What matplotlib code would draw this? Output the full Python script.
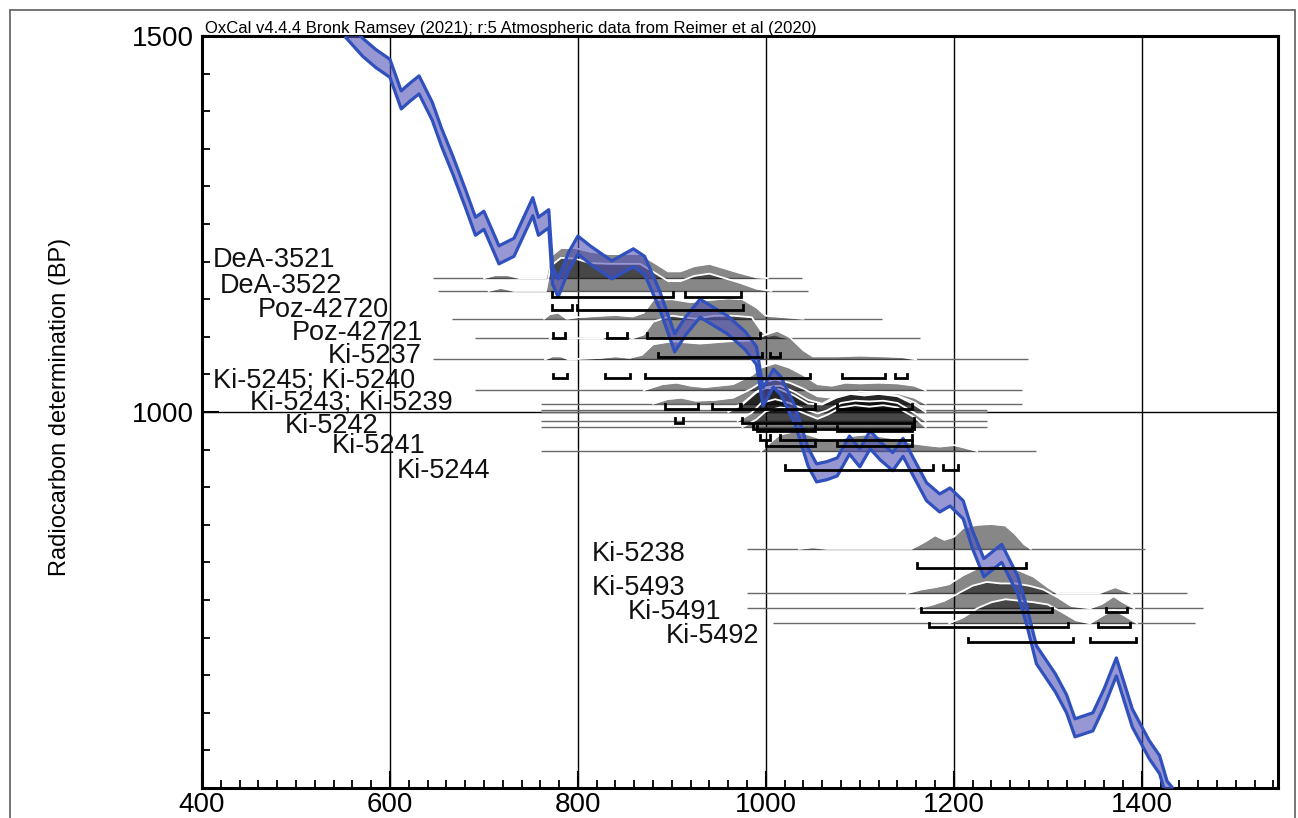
import numpy as np
import matplotlib.pyplot as plt
from matplotlib.patches import Rectangle

plt.rcParams['font.family'] = ['Liberation Sans', 'DejaVu Sans']

# Calibration curve (IntCal20): cal AD vs radiocarbon BP
curve_ad = [553, 571, 585, 600, 612, 621, 631, 645, 655, 667, 680, 691, 700, 716, 732, 752, 758,
            769, 773, 779, 790, 800, 813, 836, 859, 871, 887, 903, 915, 930, 959, 978, 990, 997,
            1008, 1016, 1031, 1045, 1054, 1065, 1076, 1089, 1100, 1111, 1122, 1135, 1146, 1156,
            1171, 1185, 1196, 1210, 1220, 1232, 1251, 1268, 1278, 1288, 1308, 1320, 1329, 1348,
            1360, 1373, 1390, 1408, 1419, 1427, 1435]
curve_bp = [1510, 1485, 1470, 1457, 1415, 1425, 1435, 1400, 1365, 1328, 1285, 1247, 1255, 1209,
            1219, 1273, 1247, 1257, 1182, 1165, 1200, 1222, 1209, 1189, 1205, 1195, 1149, 1092,
            1115, 1138, 1116, 1095, 1075, 1020, 1045, 1035, 996, 940, 919, 922, 927, 956, 939,
            963, 948, 934, 953, 929, 894, 879, 887, 870, 830, 793, 812, 770, 727, 677, 640, 612,
            580, 588, 620, 661, 593, 551, 531, 497, 485]
curve_err = 12

# dates: measured BP, extent of the thin line, calibrated distribution, 95.4% ranges
date_names = ['DeA-3521', 'DeA-3522', 'Poz-42720', 'Poz-42721', 'Ki-5237', 'Ki-5245',
              'Ki-5240', 'Ki-5243', 'Ki-5239', 'Ki-5242', 'Ki-5241', 'Ki-5244',
              'Ki-5238', 'Ki-5493', 'Ki-5491', 'Ki-5492']
date_bp = [1178, 1161, 1124, 1098, 1070, 1029, 1011, 1003, 1000, 988, 980, 948,
           818, 759, 739, 719]
line_start = [646, 651, 666, 690, 646, 690, 761, 761, 761, 761, 761, 761,
              980, 980, 980, 1008]
line_end = [1039, 1045, 1124, 1164, 1279, 1273, 1273, 1235, 1235, 1235, 1235, 1288,
            1403, 1448, 1465, 1457]

dist_x = [
    [700, 712, 725, 738, 766, 771, 782, 797, 813, 834, 866, 882, 896, 909, 924, 940, 956, 972, 990, 1002],
    [705, 718, 732, 766, 771, 782, 797, 813, 834, 866, 882, 896, 909, 924, 940, 956, 972, 990, 1006],
    [764, 770, 779, 788, 800, 825, 840, 858, 870, 880, 900, 920, 940, 960, 975, 990, 1000, 1020, 1040],
    [770, 776, 782, 826, 832, 850, 858, 870, 880, 900, 925, 945, 965, 985, 995, 1002, 1010, 1016, 1025],
    [765, 773, 782, 790, 825, 840, 855, 868, 880, 900, 930, 960, 985, 1000, 1012, 1025, 1040, 1050,
     1075, 1100, 1125, 1145, 1160],
    [870, 890, 905, 920, 935, 950, 965, 985, 995, 1010, 1025, 1040, 1055, 1070, 1085, 1100, 1120,
     1140, 1158, 1170],
    [880, 895, 910, 925, 945, 965, 985, 995, 1010, 1025, 1040, 1055, 1070, 1085, 1100, 1120, 1140,
     1158, 1170],
    [960, 975, 990, 1000, 1015, 1030, 1045, 1060, 1075, 1090, 1105, 1120, 1140, 1158, 1170],
    [960, 975, 990, 1000, 1015, 1030, 1045, 1060, 1075, 1090, 1105, 1120, 1140, 1158, 1170],
    [970, 985, 995, 1010, 1025, 1040, 1055, 1065, 1080, 1095, 1110, 1125, 1140, 1158, 1170],
    [975, 990, 1000, 1015, 1030, 1045, 1055, 1065, 1080, 1095, 1110, 1125, 1140, 1158, 1170],
    [995, 1005, 1015, 1030, 1045, 1060, 1075, 1090, 1105, 1120, 1140, 1158, 1170, 1185, 1200, 1210, 1225],
    [1035, 1050, 1065, 1155, 1170, 1180, 1190, 1200, 1210, 1225, 1240, 1255, 1265, 1275, 1282],
    [1150, 1165, 1180, 1195, 1210, 1225, 1240, 1255, 1270, 1285, 1300, 1310, 1355, 1365, 1372, 1380, 1390],
    [1160, 1175, 1190, 1205, 1220, 1235, 1250, 1265, 1280, 1295, 1310, 1325, 1345, 1358, 1370, 1380, 1392],
    [1195, 1210, 1225, 1240, 1255, 1270, 1285, 1300, 1315, 1330, 1345, 1358, 1370, 1382, 1395],
]
dist_h = [
    [0, 4, 4, 0, 0, 29, 40, 40, 35, 32, 32, 20, 9, 9, 16, 19, 13, 7, 1, 0],
    [0, 4, 0, 0, 33, 44, 43, 37, 36, 36, 24, 13, 13, 20, 23, 17, 11, 3, 0],
    [0, 6, 8, 0, 2, 4, 5, 3, 8, 25, 26, 22, 25, 27, 26, 15, 4, 2, 0],
    [0, 3, 0, 0, 3, 3, 0, 5, 22, 30, 26, 30, 30, 28, 10, 3, 5, 2, 0],
    [0, 4, 4, 0, 2, 4, 2, 6, 20, 24, 21, 24, 25, 33, 38, 30, 12, 4, 4, 5, 4, 3, 0],
    [0, 8, 10, 6, 4, 6, 8, 20, 30, 36, 30, 20, 8, 6, 10, 9, 10, 9, 6, 0],
    [0, 6, 8, 4, 5, 8, 20, 28, 32, 28, 20, 10, 8, 14, 16, 15, 14, 8, 0],
    [0, 8, 24, 30, 32, 24, 13, 8, 18, 22, 21, 22, 19, 10, 0],
    [0, 10, 26, 32, 30, 22, 11, 10, 19, 24, 22, 24, 21, 10, 0],
    [0, 11, 24, 29, 24, 16, 10, 14, 24, 27, 26, 27, 24, 11, 0],
    [0, 10, 21, 26, 24, 16, 11, 16, 26, 29, 27, 29, 26, 13, 0],
    [0, 12, 22, 26, 22, 16, 14, 20, 22, 20, 16, 10, 8, 6, 8, 5, 0],
    [0, 2, 0, 0, 10, 18, 12, 16, 28, 32, 33, 31, 20, 6, 0],
    [0, 5, 8, 12, 24, 33, 37, 35, 30, 22, 8, 0, 0, 5, 8, 4, 0],
    [0, 4, 10, 20, 30, 35, 33, 33, 30, 25, 15, 3, 0, 6, 16, 8, 0],
    [0, 8, 20, 28, 32, 30, 28, 25, 15, 4, 0, 10, 18, 10, 0],
]
ranges = [
    [(772, 901), (914, 974)],
    [(772, 794), (799, 976)],
    [(773, 786), (831, 852), (874, 994)],
    [(885, 996), (1004, 1015)],
    [(773, 788), (829, 855), (871, 1047), (1081, 1127), (1137, 1150)],
    [(893, 928), (943, 972), (974, 1052), (1076, 1155)],
    [(903, 912), (975, 1158)],
    [(986, 1158)],
    [(991, 1052), (1076, 1155)],
    [(994, 1004), (1015, 1156)],
    [(1000, 1052), (1076, 1156)],
    [(1020, 1178), (1188, 1204)],
    [(1161, 1277)],
    [(1165, 1305), (1362, 1384)],
    [(1174, 1322), (1353, 1388)],
    [(1215, 1327), (1345, 1394)],
]

# labels as printed on the plot
label_text = ['DeA-3521', 'DeA-3522', 'Poz-42720', 'Poz-42721', 'Ki-5237', 'Ki-5245; Ki-5240',
              'Ki-5243; Ki-5239', 'Ki-5242', 'Ki-5241', 'Ki-5244', 'Ki-5238', 'Ki-5493',
              'Ki-5491', 'Ki-5492']
label_x = [411, 419, 459, 496, 534, 412, 451, 488, 538, 607, 815, 815, 853, 893]
label_y = [1193, 1158, 1126, 1096, 1065, 1033, 1003, 972, 945, 912, 802, 757, 725, 693]

title = 'OxCal v4.4.4 Bronk Ramsey (2021); r:5 Atmospheric data from Reimer et al (2020)'

W, H = 1298, 818
fig = plt.figure(figsize=(W / 100, H / 100), dpi=100)
ax = fig.add_axes([202 / W, 30 / H, 1076 / W, 752 / H])

# outer frame of the figure
fig.add_artist(Rectangle((10 / W, -0.05), 1285 / W, (H - 10) / H + 0.05,
                         transform=fig.transFigure, fill=False, ec='#6a6a6a', lw=1.3))

ax.set_xlim(400, 1545)
ax.set_ylim(500, 1500)

for gx in [600, 800, 1000, 1200, 1400]:
    ax.axvline(gx, color='black', lw=1.0, zorder=1)
ax.axhline(1000, color='black', lw=1.0, zorder=1)

# dates
bracket_off = 25
tick_h = 6
for i in range(len(date_names)):
    base = date_bp[i]
    ax.hlines(base, line_start[i], line_end[i], color='#6a6a6a', lw=1.0, zorder=3)
    xs = np.array(dist_x[i])
    hs = np.array(dist_h[i])
    ax.fill_between(xs, base, base + hs, color='black', alpha=0.47, lw=0, zorder=3 + i * 0.01)
    ax.plot(xs, base + hs, color='white', lw=1.3, zorder=3 + i * 0.01 + 0.005)
    yb = base - bracket_off
    for a, b in ranges[i]:
        ax.plot([a, a, b, b], [yb + tick_h, yb, yb, yb + tick_h], color='black',
                lw=2.0, solid_joinstyle='miter', zorder=5)

# calibration curve band (over the distributions, fill see-through)
cad = np.array(curve_ad)
cbp = np.array(curve_bp)
ax.fill_between(cad, cbp - curve_err, cbp + curve_err, color='#5252b6', alpha=0.6, lw=0, zorder=4)
ax.plot(cad, cbp + curve_err, color='#2f50bd', lw=2.3, zorder=4.2)
ax.plot(cad, cbp - curve_err, color='#2f50bd', lw=2.3, zorder=4.2)

for t, lx, ly in zip(label_text, label_x, label_y):
    ax.text(lx, ly, t, fontsize=19.5, ha='left', va='baseline', color='#111111', zorder=6)

# axes styling
for s in ax.spines.values():
    s.set_linewidth(2.2)
ax.set_xticks(range(400, 1401, 200))
ax.set_xticks(np.arange(400, 1545, 20), minor=True)
ax.set_yticks([1000, 1500])
ax.set_yticks(np.arange(500, 1500, 50), minor=True)
ax.tick_params(which='major', direction='in', length=12, width=1.5, labelsize=20)
ax.tick_params(which='minor', direction='in', length=6, width=1.3)
ax.tick_params(axis='x', which='major', pad=3)
ax.tick_params(axis='y', which='major', pad=6)

fig.text(60 / W, (H - 407) / H, 'Radiocarbon determination (BP)', rotation=90,
         ha='center', va='center', fontsize=17)
fig.text(205 / W, (H - 33) / H, title, fontsize=12, ha='left', va='baseline')

fig.savefig('out.png', dpi=100)
